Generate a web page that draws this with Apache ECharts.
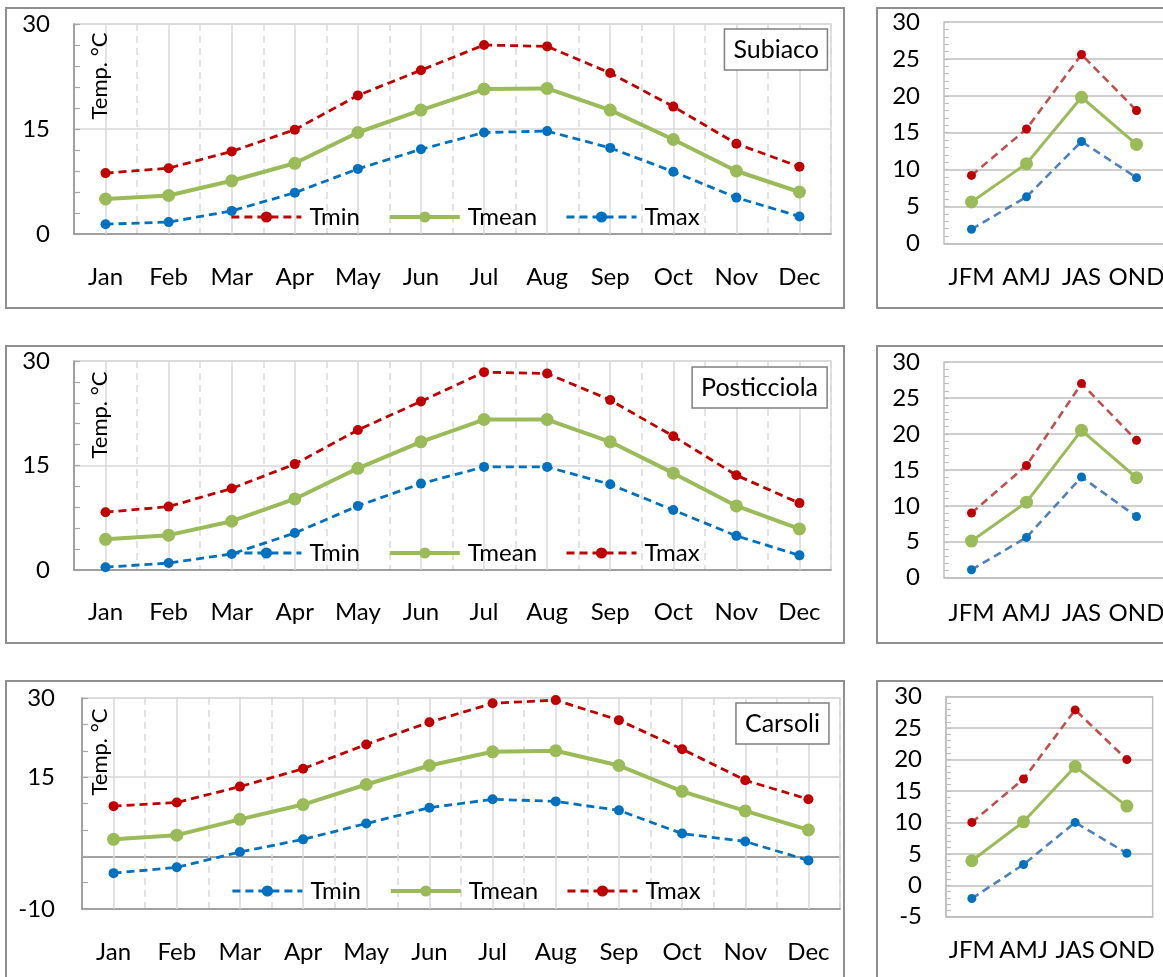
<!DOCTYPE html>
<html>
<head>
<meta charset="utf-8">
<title>Monthly and seasonal temperatures</title>
<script src="https://cdn.jsdelivr.net/npm/echarts@6/dist/echarts.min.js"></script>
<style>
  html, body { margin: 0; padding: 0; width: 1163px; height: 977px; overflow: hidden; background: #fff; }
  .panel { position: absolute; box-sizing: border-box; border: 2px solid #8f8f8f; background: #fff; }
</style>
</head>
<body>
<div id="m1" class="panel" style="left:5px;top:7px;width:840px;height:302px"></div>
<div id="s1" class="panel" style="left:876px;top:7px;width:330px;height:302px"></div>
<div id="m2" class="panel" style="left:5px;top:345px;width:840px;height:299px"></div>
<div id="s2" class="panel" style="left:876px;top:345px;width:330px;height:299px"></div>
<div id="m3" class="panel" style="left:5px;top:680px;width:840px;height:330px"></div>
<div id="s3" class="panel" style="left:876px;top:680px;width:330px;height:330px"></div>
<script>
// ---- categories ----
const months = ['Jan', 'Feb', 'Mar', 'Apr', 'May', 'Jun', 'Jul', 'Aug', 'Sep', 'Oct', 'Nov', 'Dec'];
const seasons = ['JFM', 'AMJ', 'JAS', 'OND'];

// ---- Subiaco, monthly (°C) ----
const subiacoTmin  = [8.7, 9.4, 11.8, 14.9, 19.8, 23.4, 27.0, 26.8, 23.0, 18.2, 12.9, 9.6];
const subiacoTmean = [5.0, 5.5, 7.6, 10.1, 14.5, 17.7, 20.7, 20.8, 17.7, 13.5, 9.0, 6.0];
const subiacoTmax  = [1.4, 1.7, 3.3, 5.9, 9.3, 12.1, 14.5, 14.7, 12.3, 8.9, 5.2, 2.5];

// ---- Posticciola, monthly (°C) ----
const posticciolaTmin  = [0.4, 1.0, 2.3, 5.3, 9.2, 12.4, 14.8, 14.8, 12.3, 8.6, 4.9, 2.1];
const posticciolaTmean = [4.4, 5.0, 7.0, 10.2, 14.6, 18.4, 21.6, 21.6, 18.4, 13.9, 9.2, 5.9];
const posticciolaTmax  = [8.3, 9.1, 11.7, 15.2, 20.1, 24.2, 28.4, 28.2, 24.4, 19.2, 13.6, 9.6];

// ---- Carsoli, monthly (°C) ----
const carsoliTmin  = [-3.2, -2.1, 0.8, 3.2, 6.2, 9.2, 10.8, 10.4, 8.7, 4.3, 2.8, -0.8];
const carsoliTmean = [3.2, 4.0, 7.0, 9.8, 13.6, 17.2, 19.8, 20.0, 17.2, 12.3, 8.6, 5.0];
const carsoliTmax  = [9.5, 10.2, 13.2, 16.6, 21.2, 25.4, 29.0, 29.6, 25.8, 20.3, 14.4, 10.8];

// ---- seasonal means (°C) ----
const subiacoSeasonMax  = [9.2, 15.5, 25.6, 18.0];
const subiacoSeasonMean = [5.6, 10.8, 19.8, 13.4];
const subiacoSeasonMin  = [1.9, 6.3, 13.8, 8.9];

const posticciolaSeasonMax  = [9.0, 15.6, 27.0, 19.1];
const posticciolaSeasonMean = [5.1, 10.5, 20.5, 13.9];
const posticciolaSeasonMin  = [1.1, 5.6, 14.0, 8.5];

const carsoliSeasonMax  = [10.0, 16.9, 27.9, 20.0];
const carsoliSeasonMean = [3.9, 10.1, 18.9, 12.6];
const carsoliSeasonMin  = [-2.1, 3.3, 10.0, 5.1];

// ---- tick labels ----
const monthlyLabels = [[0, 15, 30], [0, 15, 30], [-10, 15, 30]];

// ---- styling ----
const FONT = 'Lato';
const RED = '#c00000', GREEN = '#9bbb59', BLUE = '#0070c0';
const GRID_LIGHT = '#d9d9d9';
const CLEAR = 'rgba(0,0,0,0)';

// colour for every horizontal split line, so only chosen levels show a line
function splitColours(min, max, step, levels) {
  const out = [];
  for (let v = min; v <= max + 1e-9; v += step) {
    const key = Math.round(v * 1000) / 1000;
    out.push(levels[key] || CLEAR);
  }
  return out;
}

function lineSeries(name, data, colour, mean, opts) {
  return {
    name: name, type: 'line', data: data,
    symbol: 'circle', symbolSize: mean ? opts.meanSymbol : opts.symbol,
    lineStyle: { color: opts.lineColours ? opts.lineColours[colour] : colour,
                 width: mean ? opts.meanWidth : opts.width,
                 type: mean ? 'solid' : [8, 5] },
    itemStyle: { color: colour },
    z: mean ? 3 : 2
  };
}

function monthlyChart(cfg) {
  const chart = echarts.init(document.getElementById(cfg.id));
  const g = cfg.grid;
  const opts = { symbol: 10, meanSymbol: 13, width: 2.8, meanWidth: 4 };
  chart.setOption({
    animation: false,
    textStyle: { fontFamily: FONT },
    title: {
      text: cfg.station, right: cfg.titleRight, top: cfg.titleTop,
      padding: [8, 9], borderColor: '#7f7f7f', borderWidth: 1.5, backgroundColor: '#fff',
      textStyle: { fontFamily: FONT, fontSize: 25, fontWeight: 'normal', color: '#000' }
    },
    legend: {
      left: cfg.legendLeft, top: cfg.legendTop, padding: 0,
      itemWidth: 70, itemHeight: 14, itemGap: 28,
      lineStyle: { width: 'inherit' },
      textStyle: { fontFamily: FONT, fontSize: 24, color: '#000', padding: [0, 0, 0, 3] },
      data: ['Tmin', 'Tmean', 'Tmax']
    },
    grid: { left: g.left, top: g.top, width: g.width, height: g.height,
            show: true, borderColor: GRID_LIGHT, borderWidth: 1.5, backgroundColor: CLEAR },
    xAxis: {
      type: 'category', data: months, boundaryGap: true,
      axisLine: { onZero: false, lineStyle: { color: '#8c8c8c', width: 1.5 } },
      axisTick: { show: true, inside: true, alignWithLabel: true, length: g.height,
                  lineStyle: { color: GRID_LIGHT, width: 1.5 } },
      axisLabel: { interval: 0, margin: cfg.xMargin, fontFamily: FONT, fontSize: 24, color: '#000' },
      splitLine: { show: true, lineStyle: { color: GRID_LIGHT, width: 1.5, type: [7, 5] } }
    },
    yAxis: {
      type: 'value', min: cfg.yMin, max: cfg.yMax, interval: cfg.step,
      axisLine: { show: true, lineStyle: { color: '#8c8c8c', width: 1.5 } },
      axisTick: { show: true, inside: true, length: 6, lineStyle: { color: '#a6a6a6', width: 1.2 } },
      axisLabel: { margin: cfg.yMargin, fontFamily: FONT, fontSize: 24, color: '#000',
                   formatter: v => (cfg.labels.indexOf(v) >= 0 ? String(v) : '') },
      splitLine: { show: true, lineStyle: { width: 1.5,
                   color: splitColours(cfg.yMin, cfg.yMax, cfg.step, cfg.levels) } }
    },
    graphic: [{
      type: 'text', x: 93, y: cfg.unitY, rotation: Math.PI / 2, z: 10,
      style: { text: 'Temp. °C', fontFamily: FONT, fontSize: 22, fill: '#000',
               align: 'center', verticalAlign: 'middle' }
    }],
    series: cfg.series.map(s => lineSeries(s[0], s[1], s[2], s[0] === 'Tmean', opts))
  });
}

function seasonalChart(cfg) {
  const chart = echarts.init(document.getElementById(cfg.id));
  const g = cfg.grid;
  const opts = { symbol: 9, meanSymbol: 13, width: 2.6, meanWidth: 3,
                 lineColours: { [RED]: '#c0504d', [BLUE]: '#4f81bd', [GREEN]: GREEN } };
  chart.setOption({
    animation: false,
    textStyle: { fontFamily: FONT },
    grid: { left: g.left, top: g.top, width: g.width, height: g.height,
            show: cfg.border, borderColor: '#bfbfbf', borderWidth: 1.5, backgroundColor: CLEAR },
    xAxis: {
      type: 'category', data: seasons, boundaryGap: true,
      axisLine: { onZero: false, lineStyle: { color: '#bfbfbf', width: 1.5 } },
      axisTick: { show: false },
      axisLabel: { interval: 0, margin: cfg.xMargin, fontFamily: FONT, fontSize: 24, color: '#000' },
      splitLine: { show: false }
    },
    yAxis: {
      type: 'value', min: cfg.yMin, max: 30, interval: 5,
      axisLine: { show: true, lineStyle: { color: '#bfbfbf', width: 1.5 } },
      axisTick: { show: true, inside: true, length: 5, lineStyle: { color: '#bfbfbf', width: 1.2 } },
      minorTick: { show: true, splitNumber: 5, length: 5, lineStyle: { color: '#bfbfbf', width: 1.2 } },
      axisLabel: { margin: 24, fontFamily: FONT, fontSize: 24, color: '#000' },
      splitLine: { show: true, lineStyle: { color: '#bfbfbf', width: 1.5 } }
    },
    series: cfg.series.map(s => lineSeries(s[0], s[1], s[2], s[0] === 'Tmean', opts))
  });
}

monthlyChart({
  id: 'm1', station: 'Subiaco', titleRight: 15, titleTop: 20,
  grid: { left: 67, top: 15, width: 757, height: 210 },
  yMin: 0, yMax: 30, step: 3, labels: monthlyLabels[0], levels: { 15: GRID_LIGHT, 30: GRID_LIGHT },
  xMargin: 31, yMargin: 24, legendLeft: 223, legendTop: 196, unitY: 67,
  series: [['Tmin', subiacoTmin, RED], ['Tmean', subiacoTmean, GREEN], ['Tmax', subiacoTmax, BLUE]]
});
monthlyChart({
  id: 'm2', station: 'Posticciola', titleRight: 16, titleTop: 20,
  grid: { left: 67, top: 14, width: 757, height: 209 },
  yMin: 0, yMax: 30, step: 3, labels: monthlyLabels[1], levels: { 15: GRID_LIGHT, 30: GRID_LIGHT },
  xMargin: 30, yMargin: 24, legendLeft: 223, legendTop: 194, unitY: 68,
  series: [['Tmin', posticciolaTmin, BLUE], ['Tmean', posticciolaTmean, GREEN], ['Tmax', posticciolaTmax, RED]]
});
monthlyChart({
  id: 'm3', station: 'Carsoli', titleRight: 14, titleTop: 21,
  grid: { left: 75, top: 16, width: 758, height: 211 },
  yMin: -10, yMax: 30, step: 5, labels: monthlyLabels[2],
  levels: { 0: '#808080', 15: GRID_LIGHT, 30: GRID_LIGHT },
  xMargin: 31, yMargin: 27, legendLeft: 224, legendTop: 197, unitY: 70,
  series: [['Tmin', carsoliTmin, BLUE], ['Tmean', carsoliTmean, GREEN], ['Tmax', carsoliTmax, RED]]
});

seasonalChart({
  id: 's1', grid: { left: 66, top: 13, width: 220, height: 221.3 }, yMin: 0, xMargin: 22, border: false,
  series: [['Tmax', subiacoSeasonMax, RED], ['Tmean', subiacoSeasonMean, GREEN], ['Tmin', subiacoSeasonMin, BLUE]]
});
seasonalChart({
  id: 's2', grid: { left: 66, top: 15, width: 220, height: 215.7 }, yMin: 0, xMargin: 24, border: false,
  series: [['Tmax', posticciolaSeasonMax, RED], ['Tmean', posticciolaSeasonMean, GREEN], ['Tmin', posticciolaSeasonMin, BLUE]]
});
seasonalChart({
  id: 's3', grid: { left: 68, top: 14.7, width: 206.7, height: 220 }, yMin: -5, xMargin: 22, border: true,
  series: [['Tmax', carsoliSeasonMax, RED], ['Tmean', carsoliSeasonMean, GREEN], ['Tmin', carsoliSeasonMin, BLUE]]
});
</script>
</body>
</html>
